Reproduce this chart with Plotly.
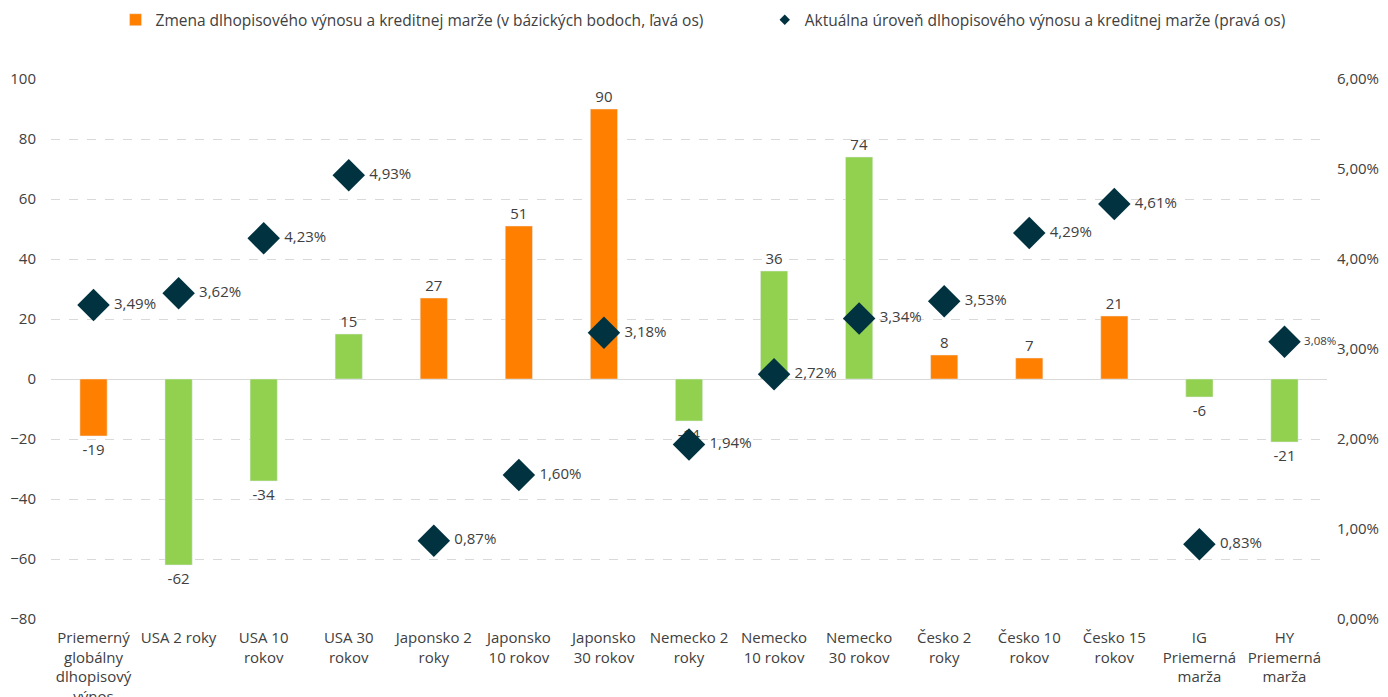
import plotly.graph_objects as go

categories = [
    "Priemerný<br>globálny<br>dlhopisový<br>výnos", "USA 2 roky", "USA 10<br>rokov", "USA 30<br>rokov",
    "Japonsko 2<br>roky", "Japonsko<br>10 rokov", "Japonsko<br>30 rokov", "Nemecko 2<br>roky",
    "Nemecko<br>10 rokov", "Nemecko<br>30 rokov", "Česko 2<br>roky", "Česko 10<br>rokov",
    "Česko 15<br>rokov", "IG<br>Priemerná<br>marža", "HY<br>Priemerná<br>marža",
]
change_bp = [-19, -62, -34, 15, 27, 51, 90, -14, 36, 74, 8, 7, 21, -6, -21]
level_pct = [3.49, 3.62, 4.23, 4.93, 0.87, 1.60, 3.18, 1.94, 2.72, 3.34, 3.53, 4.29, 4.61, 0.83, 3.08]
bar_colors_flag = ["o", "g", "g", "g", "o", "o", "o", "g", "g", "g", "o", "o", "o", "g", "g"]
level_label_size = [15] * 14 + [11.5]

ORANGE = "#FF8000"
GREEN = "#92D050"
DIAMOND = "#00323F"
FONT = "Open Sans"
TXT = "#404040"

colors = [ORANGE if c == "o" else GREEN for c in bar_colors_flag]
x = list(range(len(categories)))

fig = go.Figure()
fig.add_trace(go.Bar(
    x=x, y=change_bp, marker_color=colors, width=0.32,
    text=[str(v) for v in change_bp], textposition="outside",
    textfont=dict(size=15, color=TXT, family=FONT), cliponaxis=False,
    showlegend=False, hoverinfo="skip",
))
fig.add_trace(go.Scatter(
    x=x, y=[v / 100 for v in level_pct], yaxis="y2", mode="markers+text",
    marker=dict(symbol="diamond", size=25, color=DIAMOND),
    text=["\u00a0" + f"{v:.2f}%".replace(".", ",") for v in level_pct],
    textposition="middle right",
    textfont=dict(size=level_label_size, color=TXT, family=FONT),
    showlegend=False, hoverinfo="skip", cliponaxis=False,
))
# legend-only entries
fig.add_trace(go.Bar(
    x=[None], y=[None], marker_color=ORANGE,
    name="Zmena dlhopisového výnosu a kreditnej marže (v bázických bodoch, ľavá os)" + "\u00a0" * 14,
))
fig.add_trace(go.Scatter(
    x=[None], y=[None], mode="markers", yaxis="y2",
    marker=dict(symbol="diamond", size=8, color=DIAMOND),
    name="Aktuálna úroveň dlhopisového výnosu a kreditnej marže (pravá os)",
))

fig.update_layout(
    width=1380, height=689,
    margin=dict(l=43, r=61, t=71, b=78, autoexpand=False),
    plot_bgcolor="white", paper_bgcolor="white",
    separators=", ",
    font=dict(family=FONT, size=15, color=TXT),
    legend=dict(orientation="h", x=0.511, xanchor="center", y=1.109, yref="paper",
                yanchor="middle", font=dict(size=15.5, color=TXT), itemwidth=30,
                traceorder="normal"),
    xaxis=dict(tickmode="array", tickvals=x, ticktext=categories, range=[-0.5, 14.5],
               showgrid=False, zeroline=False, showline=False, automargin=False,
               tickfont=dict(size=15, color=TXT, family=FONT), ticks="",
               ticklabelstandoff=8),
    yaxis=dict(range=[-80, 100], dtick=20, showgrid=True, gridcolor="#D9D9D9",
               griddash="dash", zeroline=True, zerolinecolor="#D9D9D9", zerolinewidth=1,
               automargin=False,
               tickfont=dict(size=15, color=TXT, family=FONT), ticklabelstandoff=14),
    yaxis2=dict(range=[0, 0.06], dtick=0.01, tickformat=".2%", overlaying="y",
                side="right", showgrid=False, zeroline=False, automargin=False,
                tickfont=dict(size=15, color=TXT, family=FONT), ticklabelstandoff=9),
)

fig.write_html("out.html")
